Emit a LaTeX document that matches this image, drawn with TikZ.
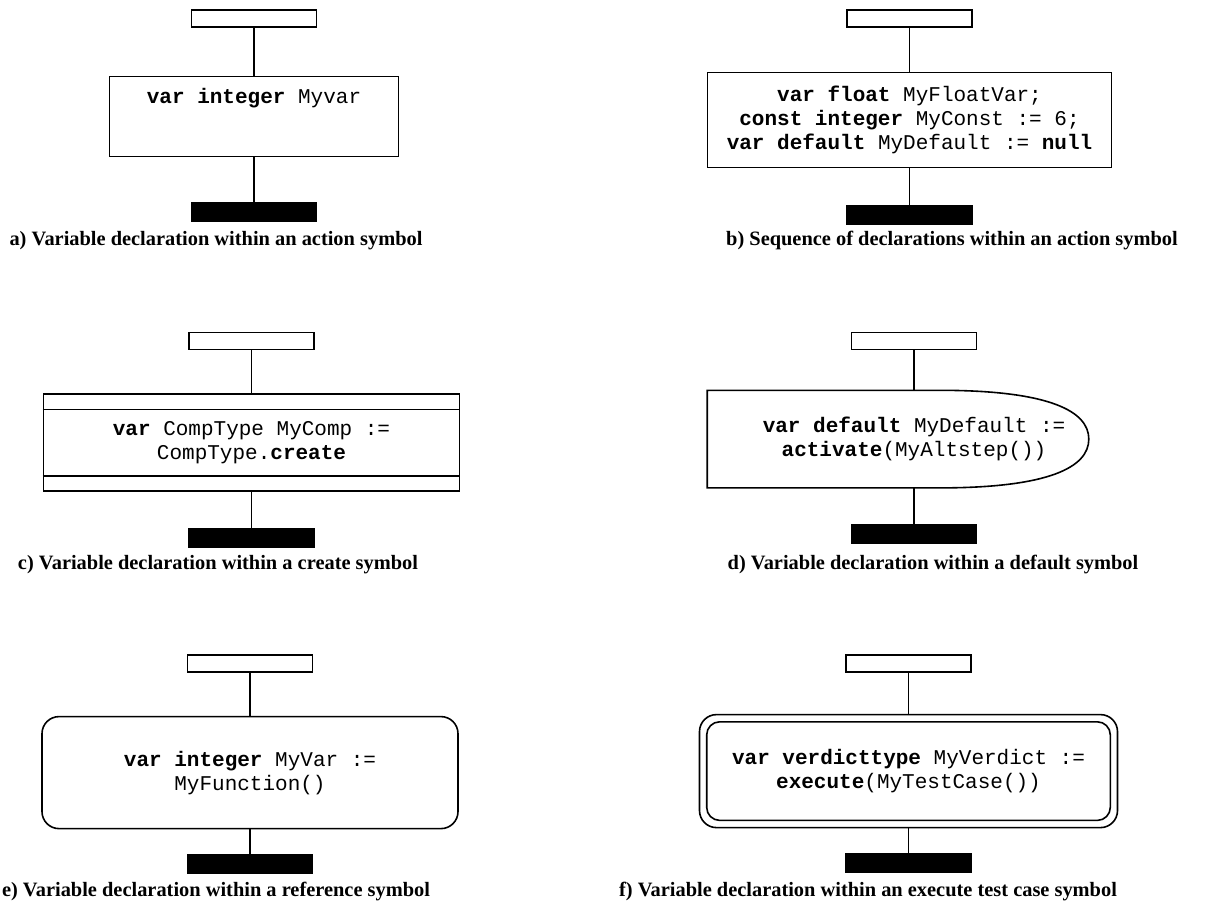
\documentclass[tikz,border=0pt]{standalone}
\usepackage{fontspec}
\setmainfont{Liberation Serif}
\setmonofont{Liberation Mono}
\usetikzlibrary{positioning}

\begin{document}
\begin{tikzpicture}[x=0.5pt, y=-0.5pt, line width=0.8pt, every node/.style={font=\ttfamily\fontsize{10.5}{12}\selectfont}, align=center]
  \tikzset{topbox/.style={rectangle, draw=black, minimum width=62.5pt, minimum height=8.5pt, inner sep=0pt}, endbar/.style={rectangle, draw=black, fill=black, minimum width=62.5pt, minimum height=9pt, inner sep=0pt}, stmt/.style={rectangle, draw=black, inner sep=0pt}, caption/.style={font=\rmfamily\bfseries\fontsize{10.2}{12}\selectfont}}
  \useasboundingbox (0,0) rectangle (1215,910);
  % a) action symbol
  \node[topbox] (topA) at (254,18.5) {};
  \node[stmt, below=24pt of topA, minimum width=144.5pt, minimum height=40pt, text height=8pt, text depth=21pt] (actA) {\textbf{var integer} Myvar};
  \node[endbar, below=22.5pt of actA] (endA) {};
  \draw (topA) -- (actA);
  \draw (actA) -- (endA);
  \node[caption] (capA) at (216,241) {a) Variable declaration within an action symbol};
  % b) sequence of declarations
  \node[topbox] (topB) at (909.5,18.5) {};
  \node[stmt, below=22pt of topB, minimum width=202pt, minimum height=47.5pt] (actB) {\textbf{var float} MyFloatVar;\\ \textbf{const integer} MyConst := 6;\\ \textbf{var default} MyDefault := \textbf{null}};
  \node[endbar, below=18.5pt of actB] (endB) {};
  \draw (topB) -- (actB);
  \draw (actB) -- (endB);
  \node[caption] (capB) at (952,241) {b) Sequence of declarations within an action symbol};
  % c) create symbol
  \node[topbox] (topC) at (251.5,341) {};
  \node[stmt, below=21.5pt of topC, minimum width=208pt, minimum height=48.5pt] (crtC) {\textbf{var} CompType MyComp :=\\ CompType.\textbf{create}};
  \draw ([yshift=-8pt]crtC.north west) -- ([yshift=-8pt]crtC.north east);
  \draw ([yshift=8pt]crtC.south west) -- ([yshift=8pt]crtC.south east);
  \node[endbar, below=18pt of crtC] (endC) {};
  \draw (topC) -- (crtC);
  \draw (crtC) -- (endC);
  \node[caption] (capC) at (218,565) {c) Variable declaration within a create symbol};
  % d) default symbol
  \node[topbox] (topD) at (914,341) {};
  \node[stmt, draw=none, below=20pt of topD, minimum width=206pt, minimum height=48pt] (defD) {\textbf{var default} MyDefault :=\\ \textbf{activate}(MyAltstep())};
  \draw (defD.north west) -- ([xshift=116pt]defD.north west)
    .. controls ([xshift=171pt]defD.north west) and ([xshift=-16pt,yshift=14pt]defD.east) .. ([xshift=-16pt]defD.east)
    .. controls ([xshift=-16pt,yshift=-14pt]defD.east) and ([xshift=171pt]defD.south west) .. ([xshift=116pt]defD.south west)
    -- (defD.south west) -- cycle;
  \node[endbar, below=18pt of defD] (endD) {};
  \draw (topD) -- (defD);
  \draw (defD) -- (endD);
  \node[caption] (capD) at (933,565) {d) Variable declaration within a default symbol};
  % e) reference symbol
  \node[topbox] (topE) at (250,663.5) {};
  \node[stmt, rounded corners=8.5pt, below=21.5pt of topE, minimum width=208pt, minimum height=56pt] (refE) {\textbf{var integer} MyVar :=\\ MyFunction()};
  \node[endbar, below=12.5pt of refE] (endE) {};
  \draw (topE) -- (refE);
  \draw (refE) -- (endE);
  \node[caption] (capE) at (216,892) {e) Variable declaration within a reference symbol};
  % f) execute test case symbol
  \node[topbox] (topF) at (908.5,663.5) {};
  \node[stmt, rounded corners=8.5pt, below=20.5pt of topF, minimum width=209pt, minimum height=56.5pt] (exeF) {\textbf{var verdicttype} MyVerdict :=\\ \textbf{execute}(MyTestCase())};
  \draw[rounded corners=6.5pt] ([shift={(4pt,-4pt)}]exeF.north west) rectangle ([shift={(-4pt,4pt)}]exeF.south east);
  \node[endbar, below=12.5pt of exeF] (endF) {};
  \draw (topF) -- (exeF);
  \draw (exeF) -- (endF);
  \node[caption] (capF) at (868,892) {f) Variable declaration within an execute test case symbol};
\end{tikzpicture}
\end{document}
